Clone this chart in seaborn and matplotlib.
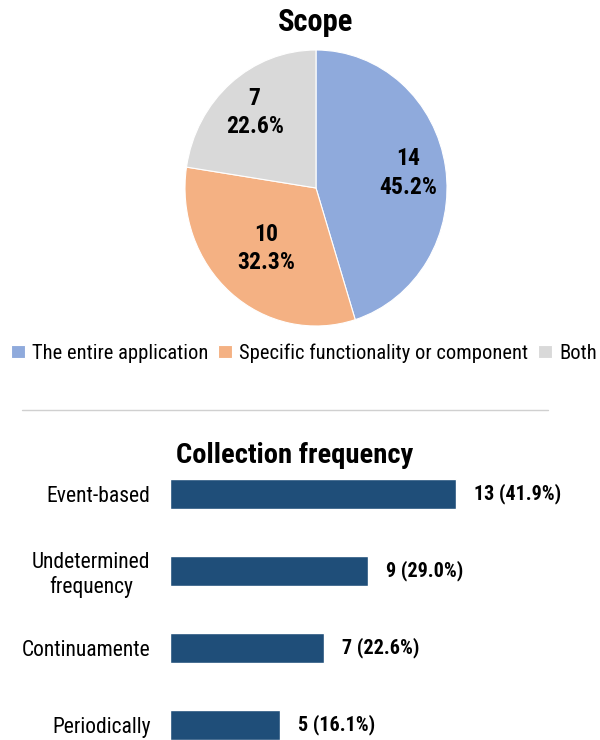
"""
Scope pie + collection frequency bars
"""
import numpy as np
import pandas as pd
import seaborn as sns
import matplotlib.pyplot as plt
from matplotlib.lines import Line2D

scope_labels = ['The entire application', 'Specific functionality or component', 'Both']
scope_counts = [14, 10, 7]
scope_pct = ['45.2%', '32.3%', '22.6%']
scope_colors = ['#8FAADC', '#F4B183', '#D9D9D9']

freq_labels = ['Event-based', 'Undetermined\nfrequency', 'Continuamente', 'Periodically']
freq_counts = [13, 9, 7, 5]
freq_pct = ['41.9%', '29.0%', '22.6%', '16.1%']

sns.set_theme(style='white')
plt.rcParams['font.family'] = ['Roboto Condensed', 'Liberation Sans Narrow', 'Roboto', 'DejaVu Sans']
plt.rcParams['text.color'] = 'black'
plt.rcParams['ytick.labelcolor'] = 'black'

W, H = 600, 740
fig = plt.figure(figsize=(W / 100, H / 100), dpi=100)


def px_axes(x0, y0, x1, y1):
    # pixel box (top-left origin) -> figure axes
    return fig.add_axes([x0 / W, 1 - y1 / H, (x1 - x0) / W, (y1 - y0) / H])


# pie (slightly taller than wide, like the original)
ax_pie = px_axes(185, 50, 447, 326)
wedges, _ = ax_pie.pie(scope_counts, colors=scope_colors, startangle=90, counterclock=False,
                       wedgeprops=dict(edgecolor='white', linewidth=0.8))
ax_pie.set_aspect('auto')
ax_pie.set_xlim(-1, 1)
ax_pie.set_ylim(-1, 1)
ax_pie.axis('off')
dists = [0.71, 0.58, 0.72]
for w, n, p, d in zip(wedges, scope_counts, scope_pct, dists):
    mid = np.deg2rad((w.theta1 + w.theta2) / 2)
    ax_pie.text(d * np.cos(mid), d * np.sin(mid), f'{n}\n{p}', ha='center', va='center',
                fontsize=17, fontweight='bold', linespacing=1.3)

fig.text(316 / W, 1 - 22 / H, 'Scope', ha='center', va='center', fontsize=22, fontweight='bold')

fig.legend(wedges, scope_labels, loc='center', bbox_to_anchor=(304 / W, 1 - 353 / H), ncol=3,
           frameon=False, fontsize=14.8, handlelength=0.65, handleheight=0.65,
           handletextpad=0.35, columnspacing=0.5)

fig.add_artist(Line2D([22 / W, 548 / W], [1 - 410 / H, 1 - 410 / H], color='#D0D0D0', lw=1))

# bars
df = pd.DataFrame({'label': freq_labels, 'count': freq_counts})
ax_bar = px_axes(170, 470, 566, 740)
sns.barplot(data=df, x='count', y='label', color='#1F4E79', width=0.39, ax=ax_bar, saturation=1)
ax_bar.set_xlim(0, 18)
ax_bar.set_ylim(3.195, -0.312)
ax_bar.set_xlabel('')
ax_bar.set_ylabel('')
ax_bar.set_xticks([])
sns.despine(ax=ax_bar, left=True, bottom=True)
ax_bar.tick_params(axis='y', length=0, pad=14, labelsize=15.5)
for lab in ax_bar.get_yticklabels():
    lab.set_multialignment('center')
for i, (n, p) in enumerate(zip(freq_counts, freq_pct)):
    ax_bar.text(n + 0.82, i, f'{n} ({p})', ha='left', va='center', fontsize=14.5, fontweight='bold')

fig.text(295 / W, 1 - 455 / H, 'Collection frequency', ha='center', va='center',
         fontsize=20.5, fontweight='bold')

fig.savefig('out.png', dpi=100)
